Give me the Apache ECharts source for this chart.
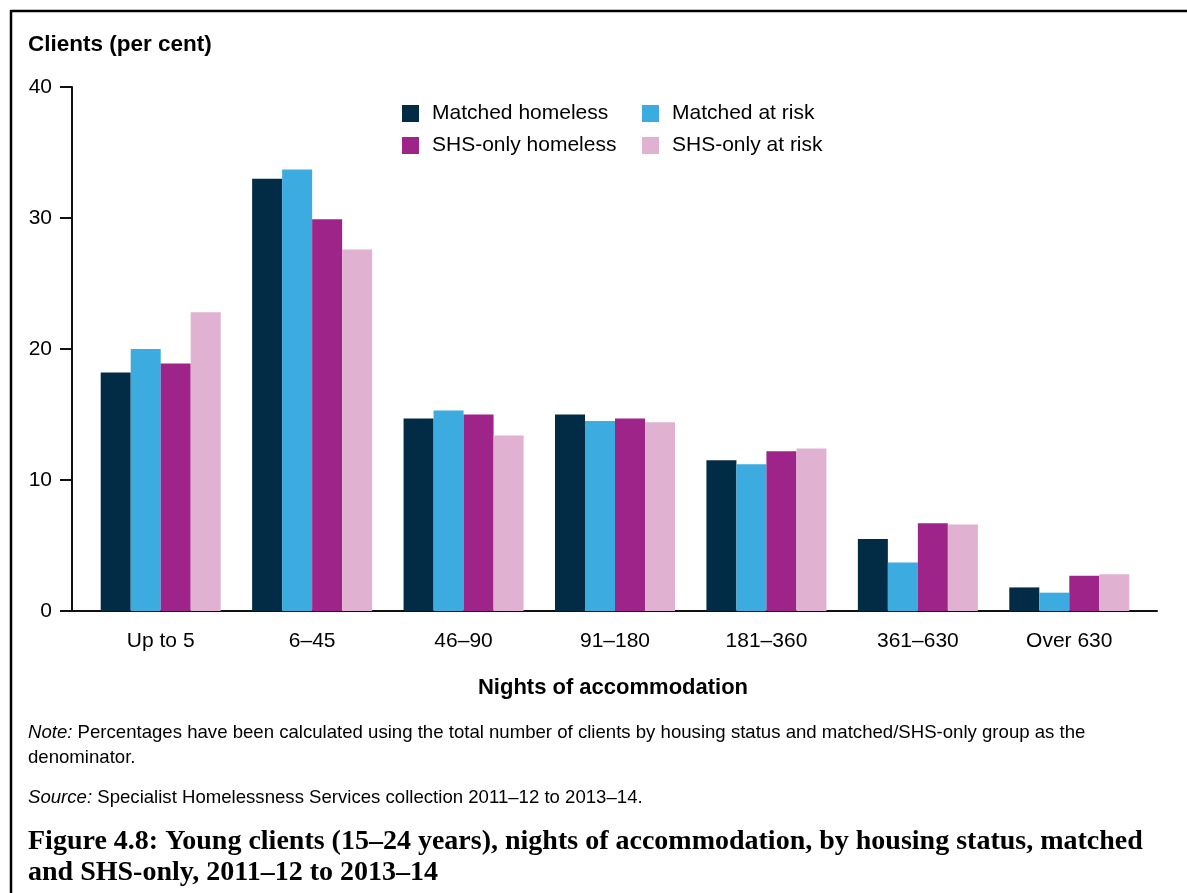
<!DOCTYPE html>
<html>
<head>
<meta charset="utf-8">
<script src="https://cdn.jsdelivr.net/npm/echarts@6/dist/echarts.min.js"></script>
<style>
html,body{margin:0;padding:0;background:#fff;}
#c{width:1187px;height:893px;}
</style>
</head>
<body>
<div id="c"></div>
<script>
const categories = ['Up to 5', '6–45', '46–90', '91–180', '181–360', '361–630', 'Over 630'];
const matchedHomeless = [18.2, 33.0, 14.7, 15.0, 11.5, 5.5, 1.8];
const matchedAtRisk = [20.0, 33.7, 15.3, 14.5, 11.2, 3.7, 1.4];
const shsOnlyHomeless = [18.9, 29.9, 15.0, 14.7, 12.2, 6.7, 2.7];
const shsOnlyAtRisk = [22.8, 27.6, 13.4, 14.4, 12.4, 6.6, 2.8];
const seriesNames = ['Matched homeless', 'Matched at risk', 'SHS-only homeless', 'SHS-only at risk'];
const seriesColors = ['#022b45', '#3babe0', '#9f248a', '#e0b1d0'];
const yMin = 0, yMax = 40, yStep = 10;

const SANS = '"Liberation Sans", Arial, sans-serif';
const SERIF = '"Liberation Serif", "Times New Roman", serif';

const chart = echarts.init(document.getElementById('c'), null, {renderer: 'canvas'});
const values = [matchedHomeless, matchedAtRisk, shsOnlyHomeless, shsOnlyAtRisk];

const noteStyle = {fontFamily: SANS, fontSize: 18.6, fontWeight: 'normal', color: '#000'};

const option = {
  backgroundColor: '#fff',
  animation: false,
  textStyle: {fontFamily: SANS, color: '#000'},
  title: [
    {text: 'Clients (per cent)', left: 28, top: 33, padding: 0,
     textStyle: {fontFamily: SANS, fontSize: 22.5, fontWeight: 'bold', color: '#000'}},
    {text: 'Nights of accommodation', left: 613, top: 677, textAlign: 'center', padding: 0,
     textStyle: {fontFamily: SANS, fontSize: 22, fontWeight: 'bold', color: '#000'}},
    {text: '{i|Note:} Percentages have been calculated using the total number of clients by housing status and matched/SHS-only group as the\ndenominator.',
     left: 28, top: 720, padding: 0,
     textStyle: Object.assign({}, noteStyle, {lineHeight: 25,
       rich: {i: Object.assign({}, noteStyle, {fontStyle: 'italic'})}})},
    {text: '{i|Source:} Specialist Homelessness Services collection 2011–12 to 2013–14.',
     left: 28, top: 788, padding: 0,
     textStyle: Object.assign({}, noteStyle, {
       rich: {i: Object.assign({}, noteStyle, {fontStyle: 'italic'})}})},
    {text: 'Figure 4.8: Young clients (15–24 years), nights of accommodation, by housing status, matched\nand SHS-only, 2011–12 to 2013–14',
     left: 28, top: 826, padding: 0,
     textStyle: {fontFamily: SERIF, fontSize: 28, fontWeight: 'bold', lineHeight: 31, color: '#000'}}
  ],
  legend: [
    {data: [seriesNames[0], seriesNames[2]], orient: 'vertical', left: 402, top: 103, padding: 0,
     itemWidth: 17, itemHeight: 17, itemGap: 11, icon: 'rect',
     textStyle: {fontFamily: SANS, fontSize: 21, lineHeight: 21, color: '#000', padding: [0, 0, 0, 8]}},
    {data: [seriesNames[1], seriesNames[3]], orient: 'vertical', left: 642, top: 103, padding: 0,
     itemWidth: 17, itemHeight: 17, itemGap: 11, icon: 'rect',
     textStyle: {fontFamily: SANS, fontSize: 21, lineHeight: 21, color: '#000', padding: [0, 0, 0, 8]}}
  ],
  grid: [
    {left: 72, right: 30, top: 87, bottom: 282, containLabel: false},
    {left: 85, width: 1060, top: 87, bottom: 282, containLabel: false}
  ],
  xAxis: [
    {gridIndex: 0, type: 'value', min: 0, max: 1, axisLine: {show: true, lineStyle: {color: '#111', width: 2}},
     axisTick: {show: false}, axisLabel: {show: false}, splitLine: {show: false}},
    {gridIndex: 1, type: 'category', data: categories, axisLine: {show: false}, axisTick: {show: false},
     axisLabel: {fontFamily: SANS, fontSize: 21, color: '#000', margin: 20}}
  ],
  yAxis: [
    {gridIndex: 0, type: 'value', min: yMin, max: yMax, interval: yStep,
     axisLine: {show: true, lineStyle: {color: '#111', width: 2}},
     axisTick: {show: true, length: 12, lineStyle: {color: '#111', width: 2}},
     axisLabel: {fontFamily: SANS, fontSize: 21, color: '#000', margin: 20},
     splitLine: {show: false}},
    {gridIndex: 1, type: 'value', min: yMin, max: yMax, show: false, splitLine: {show: false}}
  ],
  series: seriesNames.map((n, i) => ({
    name: n, type: 'bar', xAxisIndex: 1, yAxisIndex: 1,
    data: values[i], barWidth: 30, barGap: '0%',
    itemStyle: {color: seriesColors[i]}
  })),
  graphic: [
    {type: 'line', shape: {x1: 10, y1: 11, x2: 1187, y2: 11}, style: {stroke: '#000', lineWidth: 2.5}},
    {type: 'line', shape: {x1: 11, y1: 10, x2: 11, y2: 893}, style: {stroke: '#000', lineWidth: 2.5}}
  ]
};
chart.setOption(option);
</script>
</body>
</html>
